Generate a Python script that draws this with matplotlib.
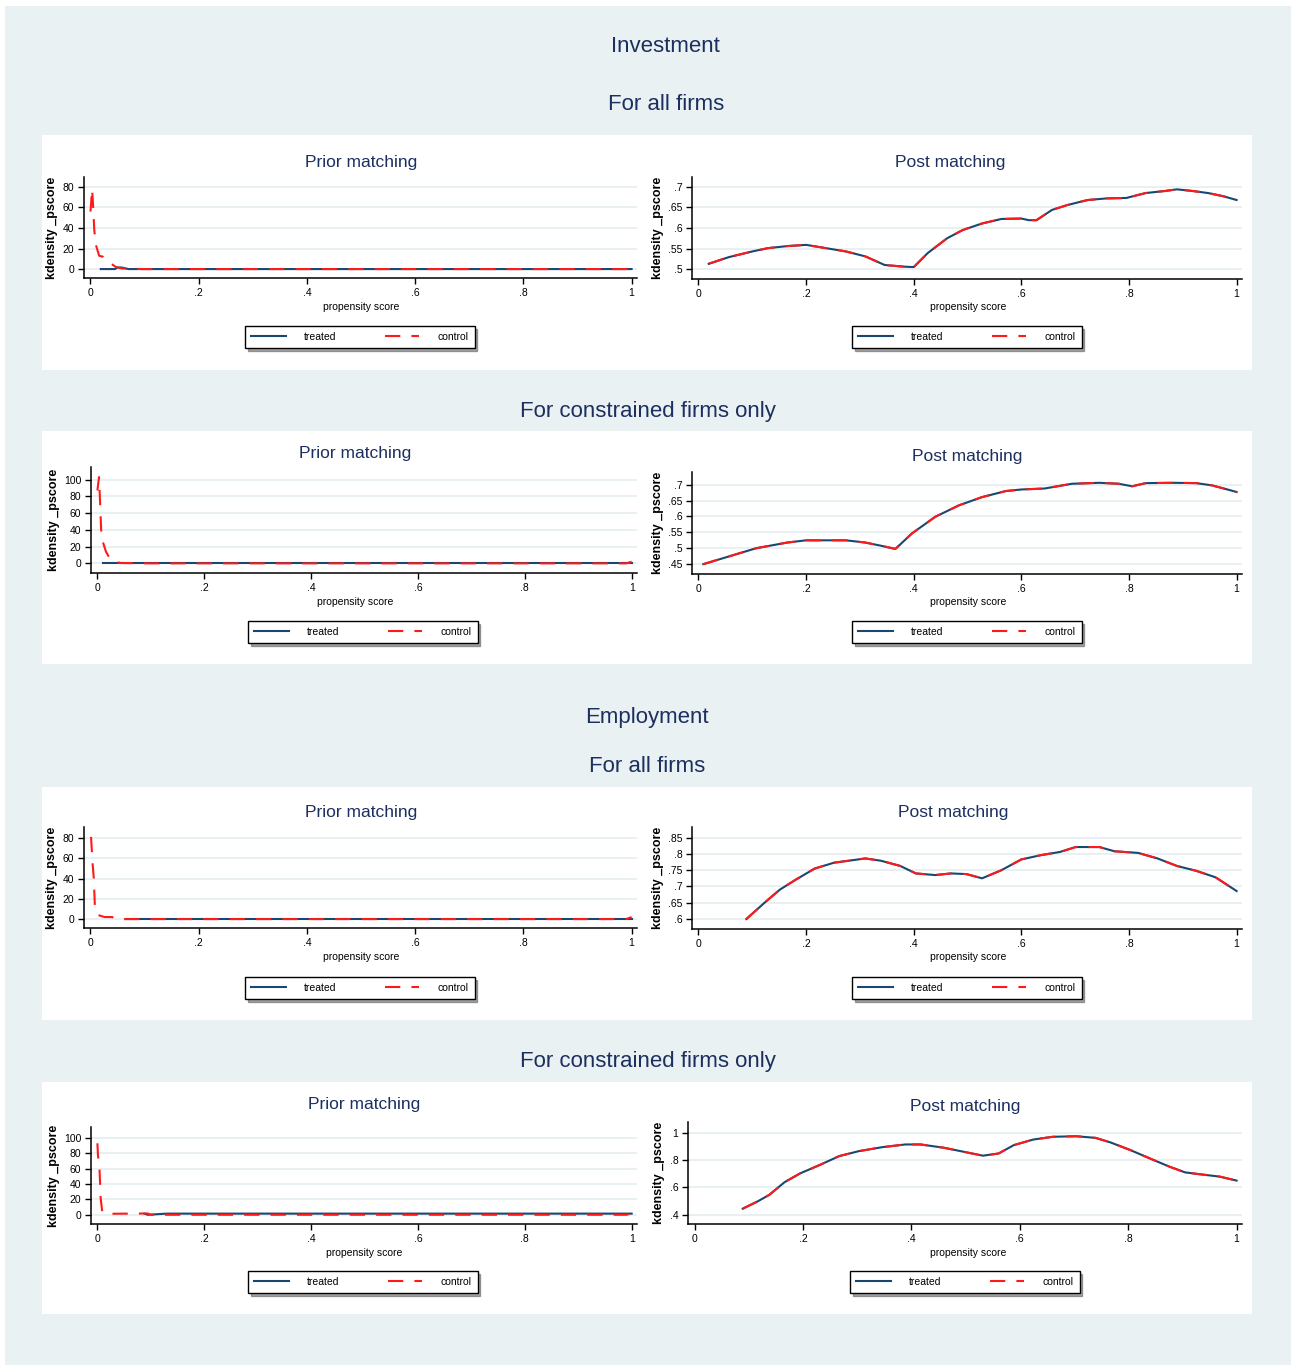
import numpy as np
import matplotlib.pyplot as plt
from matplotlib.patches import Rectangle
from matplotlib.ticker import FuncFormatter

plt.rcParams['font.family'] = ['Liberation Sans Narrow', 'Liberation Sans', 'DejaVu Sans']
plt.rcParams['lines.scale_dashes'] = False

W, H = 1293, 1365

# ---- data -------------------------------------------------------------
x_ticks = [0, 0.2, 0.4, 0.6, 0.8, 1.0]

# Investment, all firms: before matching
inv_all_pre_trt_x = [0.019, 0.045, 0.05, 0.058, 0.07, 1.0]
inv_all_pre_trt_y = [0, 0, 1.5, 1.5, 0, 0]
inv_all_pre_ctl_x = [0.0, 0.003, 0.005, 0.007, 0.010, 0.016, 0.023, 0.032, 0.047, 0.058, 0.10, 0.99, 1.0]
inv_all_pre_ctl_y = [56, 78, 60, 38, 23.5, 13, 12, 7.4, 2, 0.6, 0, 0, 2]

# Investment, all firms: after matching (treated and control coincide)
inv_all_post_x = [0.019, 0.056, 0.10, 0.129, 0.165, 0.20, 0.237, 0.274, 0.31, 0.346, 0.382, 0.40,
                  0.426, 0.462, 0.491, 0.527, 0.563, 0.60, 0.614, 0.628, 0.657, 0.686, 0.723,
                  0.759, 0.795, 0.831, 0.867, 0.889, 0.918, 0.947, 0.976, 1.0]
inv_all_post_y = [0.513, 0.529, 0.543, 0.551, 0.556, 0.559, 0.551, 0.543, 0.531, 0.510, 0.506, 0.505,
                  0.539, 0.575, 0.595, 0.611, 0.622, 0.623, 0.619, 0.619, 0.644, 0.656, 0.668,
                  0.672, 0.673, 0.685, 0.690, 0.694, 0.690, 0.685, 0.677, 0.668]

# Investment, constrained firms: before matching
inv_con_pre_trt_x = [0.010, 0.03, 1.0]
inv_con_pre_trt_y = [0, 0, 0]
inv_con_pre_ctl_x = [0.0, 0.003, 0.005, 0.007, 0.010, 0.016, 0.023, 0.031, 0.044, 0.10, 0.99, 1.0]
inv_con_pre_ctl_y = [87, 103, 73, 40, 26, 14, 6, 2, 0.4, 0, 0, 2]

# Investment, constrained firms: after matching
inv_con_post_x = [0.009, 0.056, 0.107, 0.165, 0.20, 0.274, 0.31, 0.339, 0.366, 0.397, 0.44, 0.484,
                  0.527, 0.571, 0.60, 0.643, 0.694, 0.745, 0.781, 0.806, 0.831, 0.882, 0.925,
                  0.954, 0.983, 1.0]
inv_con_post_y = [0.450, 0.474, 0.500, 0.518, 0.525, 0.525, 0.518, 0.508, 0.498, 0.547, 0.599, 0.635,
                  0.661, 0.680, 0.685, 0.688, 0.703, 0.706, 0.703, 0.695, 0.705, 0.706, 0.705,
                  0.698, 0.685, 0.677]

# Employment, all firms: before matching
emp_all_pre_trt_x = [0.065, 0.1, 1.0]
emp_all_pre_trt_y = [0, 0, 0]
emp_all_pre_ctl_x = [0.001, 0.004, 0.006, 0.008, 0.014, 0.026, 0.040, 0.047, 0.065, 0.99, 1.0]
emp_all_pre_ctl_y = [81, 54, 41, 14, 4, 2, 2, 0, 0, 0, 2]

# Employment, all firms: after matching
emp_all_post_x = [0.089, 0.122, 0.151, 0.18, 0.216, 0.252, 0.288, 0.31, 0.339, 0.375, 0.404, 0.44,
                  0.469, 0.498, 0.527, 0.563, 0.60, 0.636, 0.672, 0.701, 0.745, 0.773, 0.817,
                  0.853, 0.889, 0.925, 0.961, 1.0]
emp_all_post_y = [0.600, 0.649, 0.690, 0.720, 0.755, 0.773, 0.781, 0.786, 0.779, 0.763, 0.740, 0.735,
                  0.740, 0.738, 0.725, 0.750, 0.783, 0.796, 0.806, 0.821, 0.821, 0.808, 0.803,
                  0.786, 0.763, 0.748, 0.728, 0.686]

# Employment, constrained firms: before matching
emp_con_pre_trt_x = [0.088, 0.094, 0.13, 1.0]
emp_con_pre_trt_y = [1.5, 0, 1.5, 1.5]
emp_con_pre_ctl_x = [0.0, 0.001, 0.004, 0.005, 0.006, 0.009, 0.023, 0.094, 0.10, 0.99, 1.0]
emp_con_pre_ctl_y = [93, 78, 58, 41, 22, 4, 1.3, 1.7, 0, 0, 1.5]

# Employment, constrained firms: after matching
emp_con_post_x = [0.089, 0.116, 0.138, 0.166, 0.195, 0.231, 0.267, 0.303, 0.346, 0.389, 0.417, 0.46,
                  0.496, 0.532, 0.561, 0.589, 0.625, 0.661, 0.704, 0.74, 0.768, 0.804, 0.84,
                  0.876, 0.905, 0.933, 0.969, 1.0]
emp_con_post_y = [0.444, 0.496, 0.545, 0.637, 0.702, 0.763, 0.828, 0.864, 0.893, 0.913, 0.913, 0.889,
                  0.860, 0.831, 0.847, 0.908, 0.949, 0.969, 0.973, 0.961, 0.927, 0.872, 0.811,
                  0.751, 0.709, 0.695, 0.678, 0.649]

# ---- styling ------------------------------------------------------------
BG = '#E9F1F3'
TITLE_C = '#1C2F5E'
TRT_C = '#1A476F'
CTL_C = '#FF1A1A'
GRID_C = '#E8F0F2'


def frac(px, py):
    return px / W, 1 - py / H


def box(left, top, right, bottom):
    return [left / W, 1 - bottom / H, (right - left) / W, (bottom - top) / H]


fig = plt.figure(figsize=(W / 100, H / 100), dpi=100, facecolor='white')
fig.patches.append(Rectangle((5 / W, 0), (1291 - 5) / W, 1 - 6 / H, transform=fig.transFigure,
                             facecolor=BG, edgecolor='none', zorder=-10))
for top, bottom in [(135, 370), (431, 664), (787, 1020), (1082, 1314)]:
    fig.patches.append(Rectangle((42 / W, 1 - bottom / H), (1252 - 42) / W, (bottom - top) / H,
                                 transform=fig.transFigure, facecolor='white',
                                 edgecolor='none', zorder=-9))

for txt, px, py in [('Investment', 665, 46), ('For all firms', 666, 104),
                    ('For constrained firms only', 648, 411), ('Employment', 647, 717),
                    ('For all firms', 647, 766), ('For constrained firms only', 648, 1061)]:
    fig.text(*frac(px, py), txt, ha='center', va='center', fontsize=16, color=TITLE_C)

fmt = FuncFormatter(lambda v, pos: ('%g' % round(v, 3)).lstrip('0') or '0')


def panel(rect, title, title_xy, xlab_xy, leg_xy, trt, ctl, ylim, yticks):
    ax = fig.add_axes(box(*rect))
    ax.set_facecolor('white')
    ax.plot(trt[0], trt[1], color=TRT_C, lw=1.5, zorder=3)
    ax.plot(ctl[0], ctl[1], color=CTL_C, lw=1.5, dashes=(11, 8), zorder=4)
    ax.set_xlim(-0.012, 1.01)
    ax.set_ylim(*ylim)
    ax.set_xticks(x_ticks)
    ax.set_yticks(yticks)
    ax.xaxis.set_major_formatter(fmt)
    ax.yaxis.set_major_formatter(fmt)
    ax.grid(axis='y', color=GRID_C, lw=1.4)
    ax.set_axisbelow(True)
    for s in ['top', 'right']:
        ax.spines[s].set_visible(False)
    for s in ['left', 'bottom']:
        ax.spines[s].set_linewidth(1.1)
    ax.tick_params(length=4, width=1, labelsize=7.5, pad=3)
    ax.set_ylabel('kdensity _pscore', fontsize=9, fontweight='bold', labelpad=3)
    fig.text(*frac(*title_xy), title, ha='center', va='center', fontsize=12.5, color=TITLE_C)
    fig.text(*frac(*xlab_xy), 'propensity score', ha='center', va='center', fontsize=7.5)
    leg = ax.legend(handles=ax.lines[:2], labels=['treated', 'control'], ncol=2,
                    loc='center', bbox_to_anchor=frac(*leg_xy), bbox_transform=fig.transFigure,
                    fontsize=7.5, frameon=True, fancybox=False, shadow=True,
                    handlelength=3.3, handletextpad=1.8, columnspacing=4.6, borderpad=0.55)
    leg.get_frame().set_edgecolor('black')
    leg.get_frame().set_linewidth(1.0)
    return ax


rows = [
    dict(top_l=(84, 177, 637, 278), top_r=(692, 177, 1242, 279), ty=163, ty_r=163, tx=361, tx_r=950,
         xly=307, legy=337, legx=360, legx_r=967,
         pre=((inv_all_pre_trt_x, inv_all_pre_trt_y), (inv_all_pre_ctl_x, inv_all_pre_ctl_y)),
         post=(inv_all_post_x, inv_all_post_y),
         ylim_l=(-8.7, 89.7), yt_l=[0, 20, 40, 60, 80],
         ylim_r=(0.476, 0.724), yt_r=[0.5, 0.55, 0.6, 0.65, 0.7]),
    dict(top_l=(91, 467, 637, 573), top_r=(692, 472, 1242, 574), ty=454, ty_r=457, tx=355, tx_r=967,
         xly=602, legy=632, legx=363, legx_r=967,
         pre=((inv_con_pre_trt_x, inv_con_pre_trt_y), (inv_con_pre_ctl_x, inv_con_pre_ctl_y)),
         post=(inv_con_post_x, inv_con_post_y),
         ylim_l=(-11.5, 115), yt_l=[0, 20, 40, 60, 80, 100],
         ylim_r=(0.419, 0.74), yt_r=[0.45, 0.5, 0.55, 0.6, 0.65, 0.7]),
    dict(top_l=(84, 827, 637, 928), top_r=(692, 827, 1242, 929), ty=813, ty_r=813, tx=361, tx_r=953,
         xly=957, legy=988, legx=360, legx_r=967,
         pre=((emp_all_pre_trt_x, emp_all_pre_trt_y), (emp_all_pre_ctl_x, emp_all_pre_ctl_y)),
         post=(emp_all_post_x, emp_all_post_y),
         ylim_l=(-8.8, 90.8), yt_l=[0, 20, 40, 60, 80],
         ylim_r=(0.5695, 0.8825), yt_r=[0.6, 0.65, 0.7, 0.75, 0.8, 0.85]),
    dict(top_l=(91, 1127, 637, 1224), top_r=(688, 1122, 1242, 1224), ty=1104, ty_r=1107, tx=364, tx_r=965,
         xly=1253, legy=1282, legx=363, legx_r=965,
         pre=((emp_con_pre_trt_x, emp_con_pre_trt_y), (emp_con_pre_ctl_x, emp_con_pre_ctl_y)),
         post=(emp_con_post_x, emp_con_post_y),
         ylim_l=(-12, 114.2), yt_l=[0, 20, 40, 60, 80, 100],
         ylim_r=(0.332, 1.077), yt_r=[0.4, 0.6, 0.8, 1.0]),
]

for r in rows:
    panel(r['top_l'], 'Prior matching', (r['tx'], r['ty']), (r['tx'], r['xly']),
          (r['legx'], r['legy']), r['pre'][0], r['pre'][1], r['ylim_l'], r['yt_l'])
    panel(r['top_r'], 'Post matching', (r['tx_r'], r['ty_r']), (968, r['xly']),
          (r['legx_r'], r['legy']), r['post'], r['post'], r['ylim_r'], r['yt_r'])

fig.savefig('out.png', dpi=100, facecolor=fig.get_facecolor())
